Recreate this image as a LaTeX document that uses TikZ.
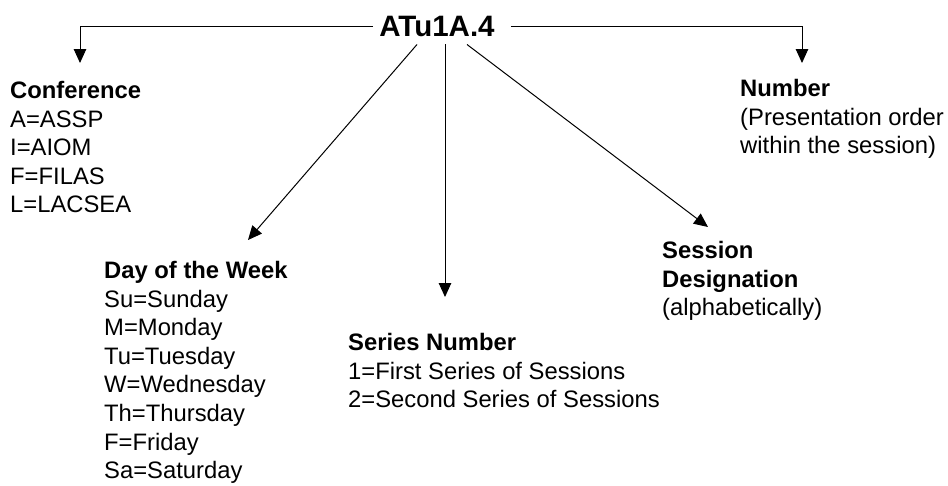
\documentclass[tikz,border=0pt]{standalone}
\usepackage{fontspec}
\setmainfont{Liberation Sans}
\usetikzlibrary{arrows.meta}

\tikzset{
  link/.style={draw, line width=1pt, -{Triangle[length=14pt,width=12.5pt]}},
  block/.style={anchor=north west, inner sep=0pt, align=left,
    font=\fontsize{23.8}{28.6}\selectfont},
}

\begin{document}
\begin{tikzpicture}[x=1pt, y=-1pt]
    \useasboundingbox (0,0) rectangle (948,485);
    \node [inner xsep=6pt, inner ysep=8pt, font=\bfseries\fontsize{29.5}{30}\selectfont] (code) at (437,26) {ATu1A.4};
    % where the arrows end
    \coordinate (confTip) at (80,63);
    \coordinate (numTip) at (802,63);
    \coordinate (dayTip) at (248,240);
    \coordinate (serTip) at (445,297);
    \coordinate (sesTip) at (708,227);
    % the parts of the code
    \node [block] (conf) at (10,81) {\textbf{Conference}\\A=ASSP\\I=AIOM\\F=FILAS\\L=LACSEA};
    \node [block] (num) at (740,79) {\textbf{Number}\\(Presentation order\\within the session)};
    \node [block] (day) at (104,261) {\textbf{Day of the Week}\\Su=Sunday\\M=Monday\\Tu=Tuesday\\W=Wednesday\\Th=Thursday\\F=Friday\\Sa=Saturday};
    \node [block] (ser) at (348,333) {\textbf{Series Number}\\1=First Series of Sessions\\2=Second Series of Sessions};
    \node [block] (ses) at (662,241) {\textbf{Session}\\\textbf{Designation}\\(alphabetically)};
    % arrows
    \draw [link] (code.west) -| (confTip);
    \draw [link] ([xshift=10pt]code.east) -| (numTip);
    \draw [link] ([xshift=-20pt]code.south) -- (dayTip);
    \draw [link] ([xshift=8pt]code.south) -- (serTip);
    \draw [link] ([xshift=30pt]code.south) -- (sesTip);
\end{tikzpicture}
\end{document}
